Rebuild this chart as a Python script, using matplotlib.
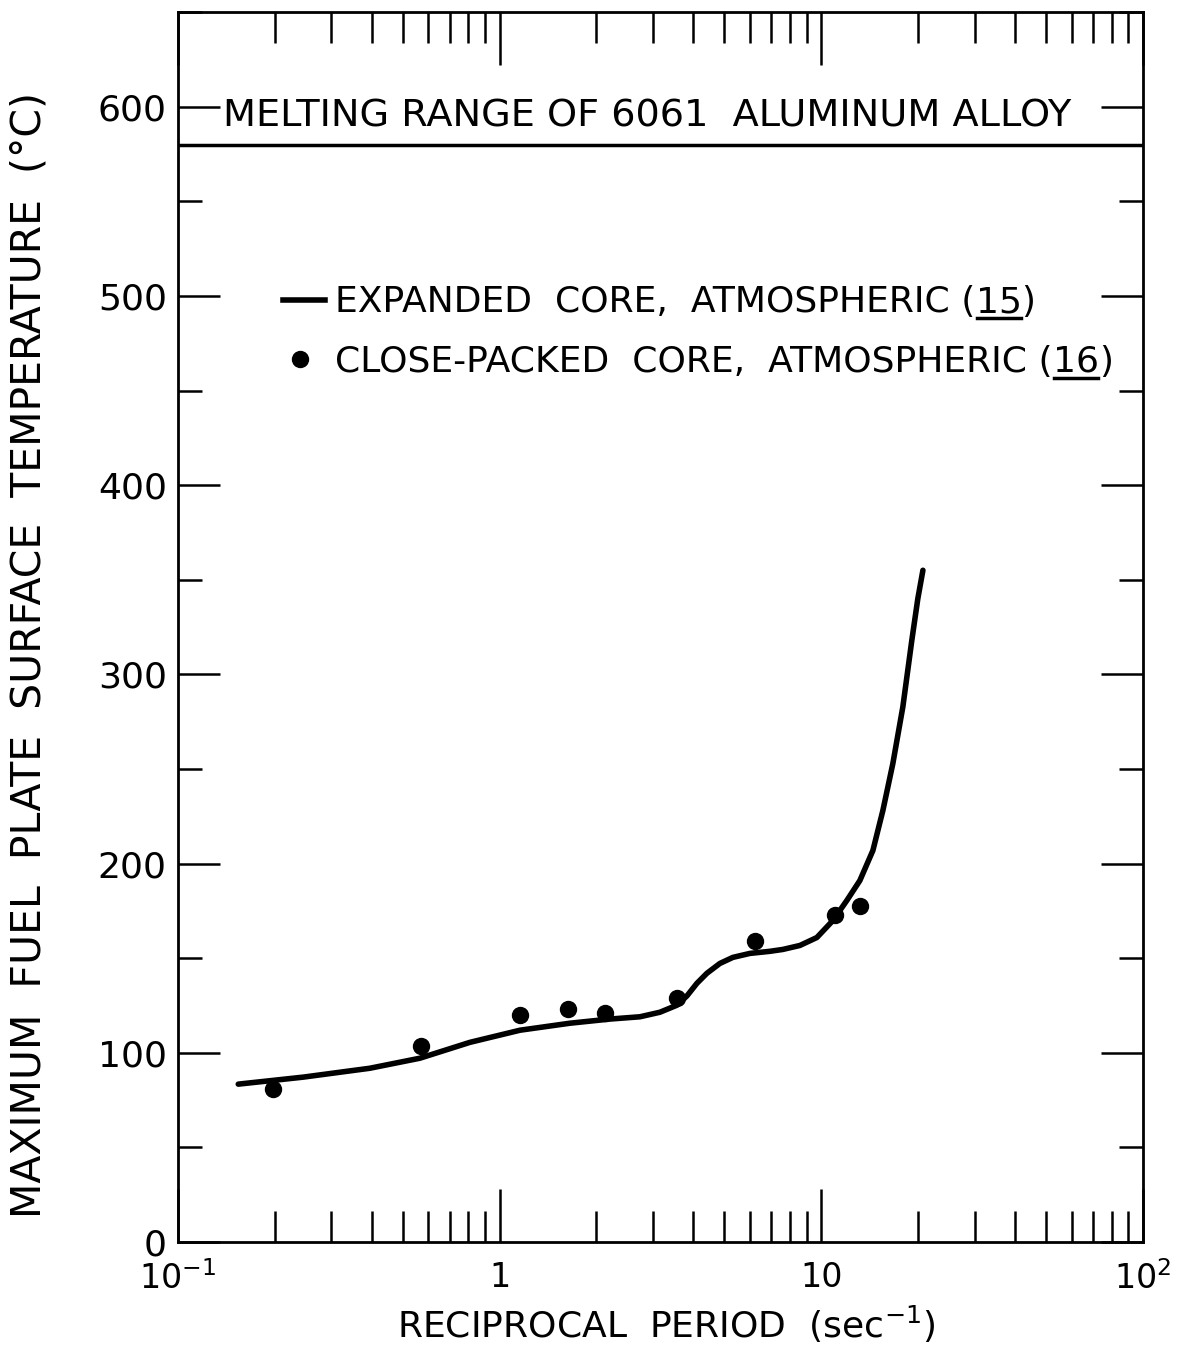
import matplotlib.pyplot as plt
from matplotlib.lines import Line2D
from matplotlib.ticker import LogLocator, MultipleLocator, FixedLocator

plt.rcParams['mathtext.default'] = 'regular'
plt.rcParams['font.family'] = ['DejaVu Sans']

# curve: expanded core, atmospheric (ref 15)
curve_x = [0.154, 0.245, 0.395, 0.565, 0.809, 1.157, 1.654, 2.203, 2.73, 3.15,
           3.557, 3.821, 4.106, 4.41, 4.84, 5.312, 6.0, 6.922, 7.597, 8.582,
           9.69, 10.87, 12.01, 13.18, 14.47, 15.54, 16.69, 17.93, 19.12, 19.96, 20.7]
curve_y = [83.4, 87.1, 91.8, 97.1, 105.5, 111.9, 115.6, 117.8, 119.0, 121.4,
           125.1, 130.0, 136.7, 142.0, 147.2, 150.4, 152.5, 153.6, 154.6, 156.7,
           160.9, 169.9, 180.5, 191.0, 206.9, 228.0, 252.8, 282.8, 318.0, 340.0, 355.0]

# points: close-packed core, atmospheric (ref 16)
pts_x = [0.197, 0.569, 1.156, 1.63, 2.12, 3.56, 6.22, 11.0, 13.2]
pts_y = [80.7, 103.4, 119.8, 123.0, 120.8, 128.8, 158.8, 173.0, 177.8]

melting_temp = 580
x_ticks = [0.1, 1, 10, 100]
x_ticklabels = ['$10^{-1}$', '1', '10', '$10^{2}$']
y_ticks = [0, 100, 200, 300, 400, 500, 600]

fig = plt.figure(figsize=(11.8, 13.47), dpi=100)
ax = fig.add_axes([0.1508, 0.078, 0.8178, 0.913])

ax.plot(curve_x, curve_y, color='black', lw=4, solid_capstyle='round', solid_joinstyle='round')
ax.plot(pts_x, pts_y, 'o', color='black', ms=11.5)
ax.axhline(melting_temp, color='black', lw=2.5)

ax.set_xscale('log')
ax.set_xlim(0.1, 100)
ax.set_ylim(0, 650)

ax.xaxis.set_major_locator(FixedLocator(x_ticks))
ax.set_xticklabels(x_ticklabels)
ax.xaxis.set_minor_locator(LogLocator(base=10, subs=range(2, 10)))
ax.xaxis.set_minor_formatter(plt.NullFormatter())
ax.yaxis.set_major_locator(FixedLocator(y_ticks))
ax.yaxis.set_minor_locator(MultipleLocator(50))

ax.tick_params(which='both', direction='in', top=True, right=True, width=1.8)
ax.tick_params(axis='x', which='major', length=38, labelsize=24, pad=14)
ax.tick_params(axis='x', which='minor', length=22)
ax.tick_params(axis='y', which='major', length=30, labelsize=26, pad=8)
ax.tick_params(axis='y', which='minor', length=17)
for s in ax.spines.values():
    s.set_linewidth(2)

fig.text(0.5647, 0.0165, 'RECIPROCAL  PERIOD  (sec$^{-1}$)', fontsize=26, ha='center', va='center')
fig.text(0.0254, 0.5137, 'MAXIMUM  FUEL  PLATE  SURFACE  TEMPERATURE  (°C)', fontsize=29.5,
         rotation=90, ha='center', va='center')

lx = ax.get_yaxis_transform()
ax.text(0.4865, 595, 'MELTING RANGE OF 6061  ALUMINUM ALLOY', ha='center', va='center',
        fontsize=27.5, transform=lx)

# legend drawn by hand
ax.plot([0.109, 0.152], [498, 498], color='black', lw=4, transform=lx)
ax.plot([0.127], [466.5], 'o', color='black', ms=11.5, transform=lx)

refs = []
for yy, label, ref in [(491.5, 'EXPANDED  CORE,  ATMOSPHERIC (', '15'),
                       (460, 'CLOSE-PACKED  CORE,  ATMOSPHERIC (', '16')]:
    t1 = ax.text(0.163, yy, label, va='baseline', fontsize=26, transform=lx)
    t2 = ax.annotate(ref, xy=(1, 0), xycoords=t1, va='bottom', fontsize=26,
                     annotation_clip=False)
    ax.annotate(')', xy=(1, 0), xycoords=t2, va='bottom', fontsize=26, annotation_clip=False)
    refs.append(t2)

# underline the reference numbers
fig.canvas.draw()
inv = fig.transFigure.inverted()
for t in refs:
    bb = t.get_window_extent()
    (x0, y0), (x1, _) = inv.transform([(bb.x0 + 1, bb.y0 + 1), (bb.x1 - 1, bb.y0)])
    fig.add_artist(Line2D([x0, x1], [y0, y0], color='black', lw=2.5))

fig.savefig('out.png', dpi=100)
